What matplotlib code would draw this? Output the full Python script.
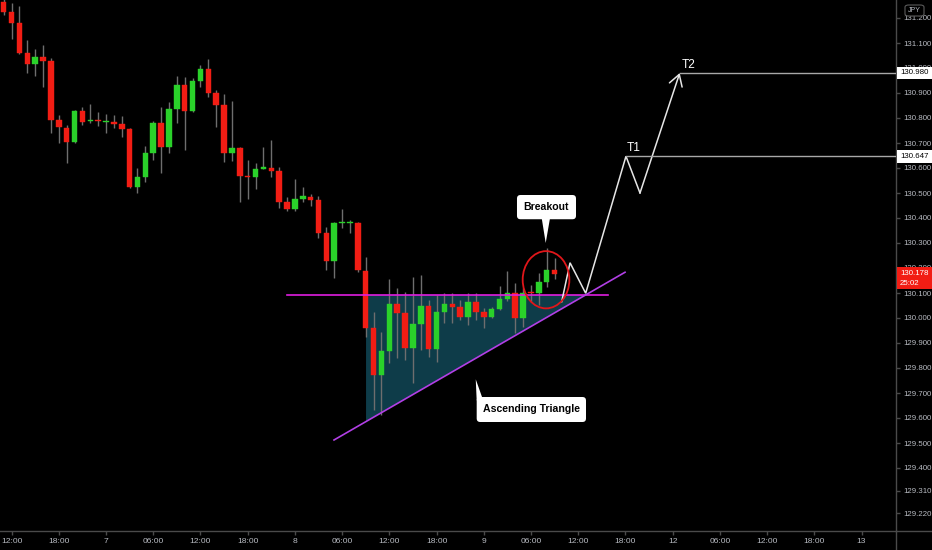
import matplotlib
matplotlib.use('Agg')
import matplotlib.pyplot as plt
import matplotlib.transforms as mtransforms
from matplotlib.patches import Rectangle, FancyBboxPatch, Polygon, Ellipse
from matplotlib.lines import Line2D

plt.rcParams['font.family'] = ['Liberation Sans', 'DejaVu Sans']

# ---------------- data (hourly candles, hour index relative to day 7 00:00) ----------------
hours = list(range(-13, 58))
opens = [131.265, 131.223, 131.179, 131.061, 131.015, 131.043, 131.027, 130.791, 130.760, 130.703,
         130.827, 130.787, 130.790, 130.784, 130.785, 130.777, 130.756, 130.523, 130.563, 130.661,
         130.780, 130.685, 130.837, 130.931, 130.829, 130.948, 130.995, 130.899, 130.851, 130.660,
         130.679, 130.566, 130.565, 130.597, 130.600, 130.587, 130.465, 130.436, 130.476, 130.485,
         130.472, 130.339, 130.228, 130.381, 130.381, 130.381, 130.189, 129.959, 129.772, 129.868,
         130.056, 130.019, 129.879, 129.976, 130.049, 129.876, 130.025, 130.055, 130.045, 130.003,
         130.063, 130.025, 130.003, 130.035, 130.075, 130.099, 129.999, 130.100, 130.099, 130.145,
         130.192]
highs = [131.285, 131.262, 131.248, 131.112, 131.075, 131.092, 131.039, 130.812, 130.772, 130.832,
         130.845, 130.856, 130.823, 130.815, 130.812, 130.808, 130.759, 130.599, 130.688, 130.789,
         130.843, 130.865, 130.968, 130.963, 130.959, 131.012, 131.035, 130.912, 130.896, 130.869,
         130.685, 130.632, 130.619, 130.683, 130.712, 130.603, 130.485, 130.555, 130.525, 130.496,
         130.489, 130.363, 130.383, 130.435, 130.392, 130.385, 130.245, 130.025, 129.945, 130.155,
         130.119, 130.105, 130.165, 130.172, 130.072, 130.092, 130.099, 130.099, 130.072, 130.099,
         130.099, 130.039, 130.045, 130.128, 130.189, 130.139, 130.120, 130.132, 130.179, 130.279,
         130.241]
lows = [131.212, 131.115, 131.058, 130.981, 130.968, 130.923, 130.739, 130.699, 130.619, 130.699,
        130.772, 130.779, 130.769, 130.741, 130.759, 130.723, 130.520, 130.499, 130.545, 130.632,
        130.581, 130.659, 130.779, 130.672, 130.825, 130.923, 130.885, 130.765, 130.625, 130.629,
        130.465, 130.475, 130.515, 130.595, 130.565, 130.439, 130.428, 130.429, 130.465, 130.449,
        130.319, 130.192, 130.161, 130.359, 130.341, 130.185, 129.925, 129.632, 129.610, 129.819,
        129.839, 129.832, 129.739, 129.872, 129.845, 129.825, 129.979, 129.981, 129.992, 129.972,
        129.992, 129.959, 130.000, 130.032, 130.070, 129.939, 129.965, 130.065, 130.052, 130.125,
        130.155]
closes = [131.225, 131.179, 131.061, 131.015, 131.043, 131.028, 130.792, 130.763, 130.703, 130.828,
          130.785, 130.790, 130.787, 130.787, 130.777, 130.757, 130.523, 130.563, 130.660, 130.780,
          130.685, 130.836, 130.931, 130.829, 130.948, 130.995, 130.901, 130.852, 130.660, 130.679,
          130.567, 130.565, 130.596, 130.599, 130.589, 130.465, 130.436, 130.475, 130.488, 130.473,
          130.341, 130.228, 130.381, 130.383, 130.383, 130.192, 129.959, 129.772, 129.868, 130.056,
          130.019, 129.879, 129.976, 130.049, 129.876, 130.025, 130.055, 130.045, 130.003, 130.063,
          130.025, 130.003, 130.035, 130.075, 130.099, 129.999, 130.100, 130.098, 130.143, 130.192,
          130.178]

xtick_pos = [-12, -6, 0, 6, 12, 18, 24, 30, 36, 42, 48, 54, 60, 66, 72, 78, 84, 90, 96]
xtick_labels = ['12:00', '18:00', '7', '06:00', '12:00', '18:00', '8', '06:00', '12:00', '18:00',
                '9', '06:00', '12:00', '18:00', '12', '06:00', '12:00', '18:00', '13']
ytick_vals = [129.22, 129.31, 129.40, 129.50, 129.60, 129.70, 129.80, 129.90, 130.00, 130.10,
              130.20, 130.30, 130.40, 130.50, 130.60, 130.70, 130.80, 130.90, 131.00, 131.10, 131.20]
ytick_labels = ['129.220', '129.310', '129.400', '129.500', '129.600', '129.700', '129.800',
                '129.900', '130.000', '130.100', '130.200', '130.300', '130.400', '130.500',
                '130.600', '130.700', '130.800', '130.900', '131.000', '131.100', '131.200']

resistance = 130.092
resistance_x = [23.0, 63.8]
support_x = [28.97, 65.95]
support_y = [129.512, 130.183]
triangle_x = [33.04, 60.93, 33.04]
triangle_y = [130.092, 130.092, 129.586]
proj_x = [57.9, 58.96, 60.95, 66.07, 67.85, 72.9]
proj_y = [130.065, 130.221, 130.099, 130.647, 130.500, 130.980]
t1, t2 = 130.647, 130.980
last_price = 130.178
countdown = '25:02'

XMIN, XMAX = -13.47, 100.38
YMIN, YMAX = 129.148, 131.272

GREEN = '#2ad12a'
RED = '#f21d14'
WICK = '#6e6e6e'
AXC = '#4a4a4a'
LBL = '#b8bbc2'
YFS = 5.7

fig = plt.figure(figsize=(9.32, 5.5), dpi=100, facecolor='black')
ax = fig.add_axes([0, 19 / 550, 896 / 932, 531 / 550])
ax.set_facecolor('black')
ax.set_xlim(XMIN, XMAX)
ax.set_ylim(YMIN, YMAX)

# triangle fill
ax.add_patch(Polygon(list(zip(triangle_x, triangle_y)), closed=True, facecolor='#0e3c49',
                     edgecolor='none', zorder=1))

# candles
for h, o, hi, lo, c in zip(hours, opens, highs, lows, closes):
    col = GREEN if c >= o else RED
    ax.vlines(h, lo, hi, color=WICK, lw=1.0, zorder=2)
    bottom = min(o, c)
    height = max(abs(c - o), 0.005)
    ax.bar(h, height, bottom=bottom, width=0.7, color=col, edgecolor=col, lw=0.3, zorder=3)

# pattern lines
ax.plot(resistance_x, [resistance, resistance], color='#e01ee0', lw=1.2, zorder=4)
ax.plot(support_x, support_y, color='#b23fe6', lw=1.2, zorder=4)

# projection zigzag with arrow
ax.plot(proj_x[:-1], proj_y[:-1], color='#e6e6e6', lw=1.1, zorder=5, solid_joinstyle='miter')
ax.annotate('', xy=(proj_x[-1], proj_y[-1]), xytext=(proj_x[-2], proj_y[-2]),
            arrowprops=dict(arrowstyle='->,head_length=0.5,head_width=0.3', color='#e6e6e6',
                            lw=1.1, shrinkA=0, shrinkB=0, mutation_scale=16), zorder=5)
ax.plot([proj_x[3], XMAX], [t1, t1], color='#a8a8a8', lw=1.0, zorder=5)
ax.plot([proj_x[5], XMAX], [t2, t2], color='#a8a8a8', lw=1.0, zorder=5)
ax.text(proj_x[3] + 0.1, t1 + 0.010, 'T1', color='white', fontsize=8.6,
        ha='left', va='bottom', zorder=6)
ax.text(proj_x[5] + 0.3, t2 + 0.010, 'T2', color='white', fontsize=8.6,
        ha='left', va='bottom', zorder=6)

# breakout ellipse
ax.add_patch(Ellipse((55.91, 130.153), 5.93, 0.229, fill=False, edgecolor='#e0161a', lw=1.3, zorder=6))

# callouts
asp = (1 / 250) / (1 / 7.87)
def callout(x0, x1, y0, y1, tail, text):
    ax.add_patch(FancyBboxPatch((x0, y0), x1 - x0, y1 - y0,
                                boxstyle='round,pad=0,rounding_size=0.45', mutation_aspect=asp,
                                facecolor='white', edgecolor='none', zorder=7))
    ax.add_patch(Polygon(tail, closed=True, facecolor='white', edgecolor='none', zorder=7))
    ax.text((x0 + x1) / 2, (y0 + y1) / 2, text, color='black', fontsize=7.6, fontweight='bold',
            ha='center', va='center', zorder=8)

callout(52.22, 59.72, 130.395, 130.492,
        [(55.36, 130.40), (56.42, 130.40), (55.87, 130.30)], 'Breakout')
callout(47.10, 60.99, 129.584, 129.684,
        [(47.10, 129.67), (47.80, 129.682), (46.98, 129.755)], 'Ascending Triangle')

# axes styling
for s in ['top', 'left']:
    ax.spines[s].set_visible(False)
for s in ['right', 'bottom']:
    ax.spines[s].set_color(AXC)
    ax.spines[s].set_linewidth(1.0)
ax.yaxis.tick_right()
ax.set_yticks(ytick_vals)
ax.set_yticklabels(ytick_labels)
ax.set_xticks(xtick_pos)
ax.set_xticklabels(xtick_labels)
ax.tick_params(axis='y', colors=AXC, labelcolor=LBL, length=3, width=1, pad=2, labelsize=YFS)
ax.tick_params(axis='x', colors=AXC, labelcolor=LBL, length=3, width=1, pad=2, labelsize=6.1)

fig.add_artist(Line2D([896 / 932, 896 / 932], [0, 19 / 550], color=AXC, lw=1.0))
fig.add_artist(Line2D([896 / 932, 1], [19 / 550, 19 / 550], color=AXC, lw=1.0))

# price tags on the scale
bt = mtransforms.blended_transform_factory(ax.transAxes, ax.transData)
def tag(y0, y1, face, lines, textcol):
    ax.add_patch(Rectangle((1.0013, y0), 0.04, y1 - y0, transform=bt, facecolor=face,
                           edgecolor='none', clip_on=False, zorder=10))
    for yy, s in lines:
        ax.text(1.0045, yy, s, transform=bt, color=textcol, fontsize=YFS, ha='left',
                va='center', clip_on=False, zorder=11)

tag(t2 - 0.025, t2 + 0.025, 'white', [(t2, '130.980')], 'black')
tag(t1 - 0.025, t1 + 0.025, 'white', [(t1, '130.647')], 'black')
tag(last_price - 0.062, last_price + 0.026, '#f21d14',
    [(last_price, '130.178'), (last_price - 0.040, countdown)], 'white')

# currency box
fig.patches.append(FancyBboxPatch((905 / 932, 1 - 16 / 550), 19 / 932, 11 / 550,
                                  boxstyle='round,pad=0,rounding_size=0.004',
                                  transform=fig.transFigure, facecolor='black',
                                  edgecolor='#5a5a5a', lw=0.8))
fig.text(914.5 / 932, 1 - 10.5 / 550, 'JPY', color=LBL, fontsize=5.0, ha='center', va='center')

fig.savefig('out.png', dpi=100, facecolor='black')
